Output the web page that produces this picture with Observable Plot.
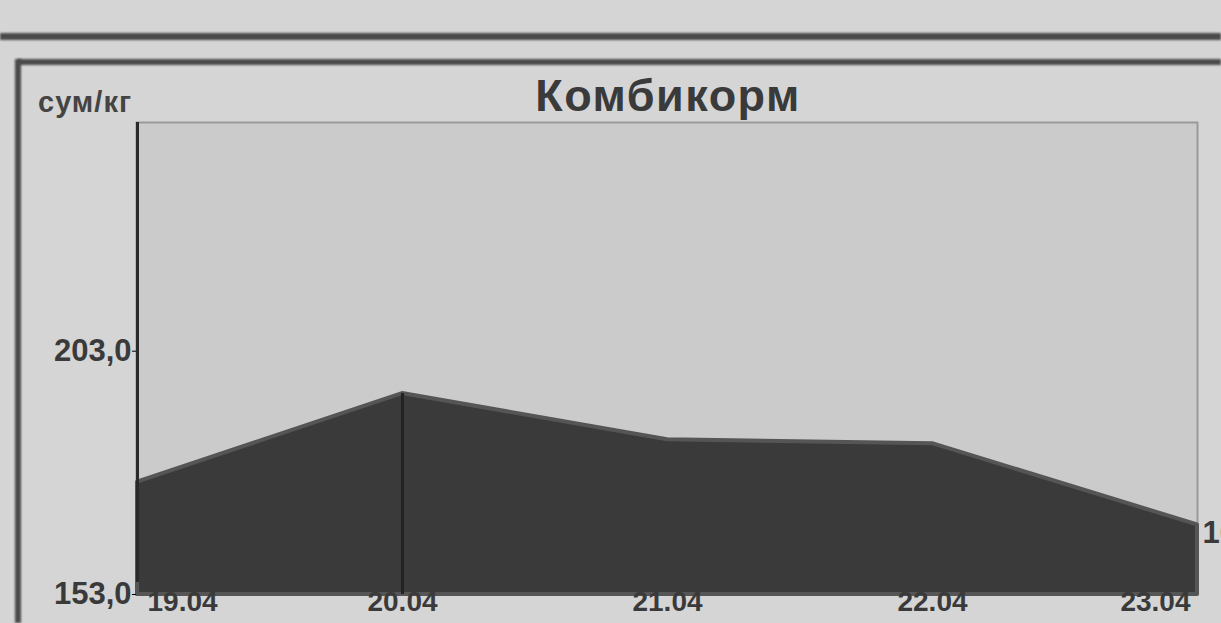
<!DOCTYPE html>
<html>
<head>
<meta charset="utf-8">
<script src="https://cdn.jsdelivr.net/npm/d3@7"></script>
<script src="https://cdn.jsdelivr.net/npm/@observablehq/plot@0.6"></script>
<style>
  html, body { margin: 0; padding: 0; background: #d5d5d5; overflow: hidden; }
  #wrap { position: relative; width: 1221px; height: 623px; font-family: "Liberation Sans", Arial, sans-serif; }
  .line { position: absolute; background: #4a4a4a; filter: blur(0.8px); }
  #title { position: absolute; left: 0; width: 1336px; top: 70px; text-align: center; font-weight: bold; font-size: 45px; color: #3a3a3a; letter-spacing: 1.5px; }
  #unit { position: absolute; left: 38px; top: 86px; font-weight: bold; font-size: 29px; color: #444; letter-spacing: 1px; }
  #chart { position: absolute; left: 0; top: 0; }
</style>
</head>
<body>
<div id="wrap">
  <div class="line" style="left:0;top:33px;width:1221px;height:7px;"></div>
  <div class="line" style="left:18px;top:59px;width:1203px;height:6px;"></div>
  <div class="line" style="left:15px;top:59px;width:6px;height:564px;"></div>
  <div id="chart"></div>
  <div id="title">Комбикорм</div>
  <div id="unit">сум/кг</div>
</div>
<script>
const dates = ["19.04", "20.04", "21.04", "22.04", "23.04"];
const prices = [176.1, 194.3, 184.8, 184.0, 167.3];
const yTicks = [153, 203];
const yDomain = [153, 250];

const data = dates.map((d, i) => ({date: d, value: prices[i]}));
const fmt = v => v.toFixed(1).replace(".", ",");
const last = data.slice(-1);
const peak = data.filter(d => d.value === d3.max(prices));
const fs = 31;
const xfs = 28;

const chart = Plot.plot({
  width: 1221,
  height: 623,
  marginLeft: 136,
  marginRight: 24,
  marginTop: 122,
  marginBottom: 29,
  style: {background: "transparent", fontFamily: "Liberation Sans, Arial, sans-serif", overflow: "hidden"},
  x: {type: "point", domain: dates, padding: 0},
  y: {domain: yDomain},
  marks: [
    Plot.frame({fill: "#cbcbcb", stroke: "#9a9a9a", strokeWidth: 2}),
    Plot.areaY(data, {x: "date", y1: yDomain[0], y2: "value", fill: "#3a3a3a", stroke: "#555", strokeWidth: 4}),
    Plot.ruleX(peak, {x: "date", y1: yDomain[0], y2: "value", stroke: "#222", strokeWidth: 3}),
    Plot.axisY({ticks: yTicks, tickFormat: fmt, tickSize: 4, tickPadding: 1, fontSize: fs, fontWeight: "bold", fill: "#3a3a3a", label: null}),
    Plot.ruleX([0], {x: () => dates[0], y1: yDomain[0], y2: yDomain[1], stroke: "#2a2a2a", strokeWidth: 3, insetTop: -12}),
    Plot.axisX({ticks: dates.slice(1, -1), tickSize: 0, tickPadding: 0, dy: -3, fontSize: xfs, fontWeight: "bold", fill: "#3a3a3a", label: null}),
    Plot.axisX({ticks: dates.slice(0, 1), tickSize: 0, tickPadding: 0, dy: -3, fontSize: xfs, fontWeight: "bold", fill: "#3a3a3a", textAnchor: "start", dx: 10, label: null}),
    Plot.axisX({ticks: dates.slice(-1), tickSize: 0, tickPadding: 0, dy: -3, fontSize: xfs, fontWeight: "bold", fill: "#3a3a3a", textAnchor: "end", dx: -7, label: null}),
    Plot.text(last, {x: "date", y: "value", text: d => fmt(d.value), textAnchor: "start", dx: 5, dy: 8, fontSize: fs, fontWeight: "bold", fill: "#3a3a3a"})
  ]
});
document.getElementById("chart").appendChild(chart);
</script>
</body>
</html>
